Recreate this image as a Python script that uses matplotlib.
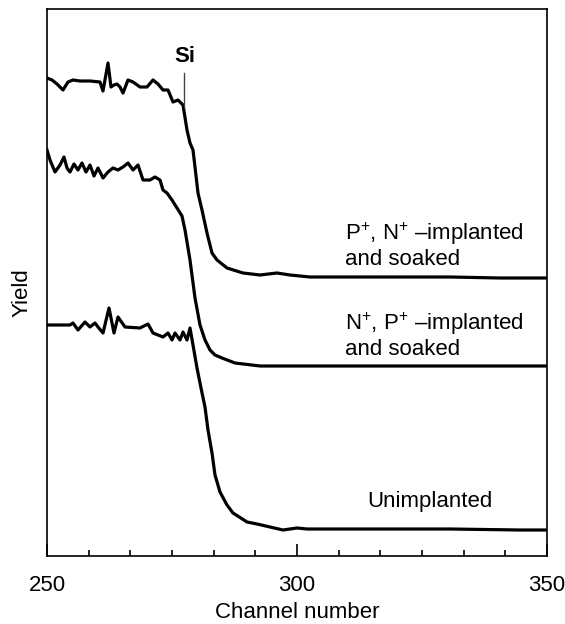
import matplotlib
matplotlib.use("Agg")
import matplotlib.pyplot as plt
import numpy as np

plt.rcParams['font.family'] = ['Liberation Sans', 'DejaVu Sans']
plt.rcParams['mathtext.fontset'] = 'custom'
plt.rcParams['mathtext.rm'] = 'Liberation Sans'
plt.rcParams['mathtext.it'] = 'Liberation Sans:italic'
plt.rcParams['mathtext.bf'] = 'Liberation Sans:bold'

# P+, N+ implanted and soaked
ch_pn = [250.0, 251.0, 252.0, 253.2, 254.2, 255.2, 256.6, 258.6, 260.6, 261.2, 262.2, 262.8,
         263.4, 264.0, 264.6, 265.2, 266.2, 267.2, 268.6, 270.0, 271.2, 272.2, 273.2, 274.2,
         275.2, 276.2, 277.2, 278.0, 278.6, 279.2, 279.6, 280.2, 281.0, 282.0, 283.0, 284.0,
         286.0, 289.2, 292.6, 296.0, 298.6, 302.6, 310.6, 320.6, 330.6, 340.6, 350.0]
y_pn = [478, 476, 472, 466, 474, 476, 475, 475, 474, 465, 493, 469,
        471, 472, 469, 463, 476, 474, 469, 469, 476, 472, 466, 466,
        454, 456, 451, 426, 413, 406, 389, 363, 346, 323, 303, 296,
        288, 283, 281, 283, 281, 279, 279, 279, 279, 278, 278]

# N+, P+ implanted and soaked
ch_np = [250.0, 250.6, 251.6, 252.6, 253.4, 254.0, 254.6, 255.4, 256.2, 257.0, 257.8, 258.6,
         259.4, 260.2, 261.2, 262.2, 263.2, 264.2, 265.2, 266.2, 267.2, 268.2, 269.2, 270.6,
         271.6, 272.6, 273.2, 274.0, 275.0, 276.0, 277.0, 277.6, 278.6, 279.6, 280.6, 281.6,
         282.6, 283.6, 285.0, 287.6, 292.6, 300.6, 320.6, 350.0]
y_np = [406, 396, 384, 391, 399, 388, 384, 392, 386, 393, 384, 391,
        380, 388, 378, 384, 388, 386, 389, 393, 386, 391, 376, 376,
        379, 376, 366, 363, 356, 348, 340, 326, 296, 258, 231, 216,
        206, 201, 198, 193, 190, 190, 190, 190]

# Unimplanted
ch_un = [250.0, 254.6, 255.2, 256.2, 257.6, 258.6, 259.6, 260.2, 261.2, 262.4, 263.4, 264.2,
         265.6, 268.6, 270.2, 271.2, 273.2, 274.2, 275.0, 275.6, 276.6, 277.2, 278.0, 278.6,
         279.2, 280.0, 280.8, 281.6, 282.2, 283.0, 283.6, 284.6, 286.0, 287.2, 290.0, 292.0,
         294.6, 297.2, 300.0, 302.0, 310.6, 330.6, 344.6, 350.0]
y_un = [231, 231, 233, 226, 234, 229, 233, 229, 223, 248, 223, 239,
        229, 228, 232, 223, 219, 223, 216, 223, 216, 224, 216, 228,
        211, 188, 168, 149, 126, 103, 81, 64, 51, 43, 34, 32,
        29, 26, 28, 27, 27, 27, 26, 26]

labels = [r"P$^{+}$, N$^{+}$ –implanted" + "\nand soaked",
          r"N$^{+}$, P$^{+}$ –implanted" + "\nand soaked",
          "Unimplanted"]
xticks_major = [250, 300, 350]
xlabel = "Channel number"
ylabel = "Yield"
si_channel = 277.4

fig = plt.figure(figsize=(5.65, 6.24), dpi=100)
ax = fig.add_axes([47/565, 1-556/624, 500/565, (556-8.5)/624])

for ch, y in [(ch_pn, y_pn), (ch_np, y_np), (ch_un, y_un)]:
    ax.plot(ch, y, color='black', lw=2.3, solid_joinstyle='round')

ax.set_xlim(250, 350)
ax.set_ylim(0, 547.5)

fs = 16
ax.text(309.6, 311, labels[0], fontsize=fs, va='center', ha='left', linespacing=1.15)
ax.text(309.6, 221, labels[1], fontsize=fs, va='center', ha='left', linespacing=1.15)
ax.text(314, 55, labels[2], fontsize=fs, va='center', ha='left')

ax.text(277.6, 499, "Si", fontsize=fs, fontweight='bold', ha='center', va='center')
ax.plot([si_channel, si_channel], [449, 483], color='#444444', lw=1.0)

ax.set_xticks(xticks_major)
ax.set_xticklabels([str(t) for t in xticks_major], fontsize=fs)
ax.set_xticks(np.linspace(250, 350, 13), minor=True)
ax.tick_params(axis='x', which='major', direction='in', length=9, width=1.2, pad=14)
ax.tick_params(axis='x', which='minor', direction='in', length=4.5, width=1.2)
ax.set_yticks([])
for s in ax.spines.values():
    s.set_linewidth(1.2)

fig.text(297/565, 1-613/624, xlabel, fontsize=fs, ha='center', va='center')
fig.text(22/565, 1-293/624, ylabel, fontsize=fs, ha='center', va='center', rotation=90)

fig.savefig("out.png", dpi=100)
